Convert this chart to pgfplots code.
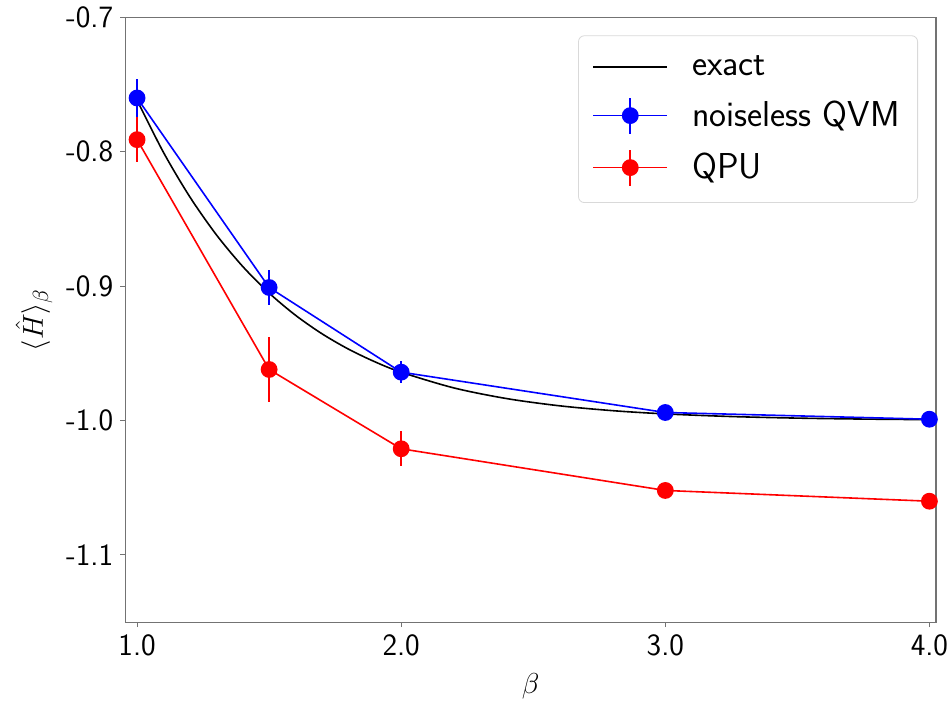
\documentclass[border=0pt]{standalone}
\usepackage{pgfplots}
\pgfplotsset{compat=1.18}
\renewcommand{\familydefault}{\sfdefault}

% legend sample with a horizontal line, a vertical error bar and a dot
\pgfplotsset{
  errlegend/.style={
    legend image code/.code={
      \draw[draw=#1,line width=0.8pt] (0pt,0pt) -- (37pt,0pt);
      \draw[draw=#1,line width=1pt] (18.5pt,-9pt) -- (18.5pt,9pt);
      \fill[fill=#1] (18.5pt,0pt) circle[radius=3.8pt];
    }
  }
}

\begin{document}
\begin{tikzpicture}
\begin{axis}[
  name=ax,
  scale only axis,
  width=405.5pt, height=302.5pt,
  xmin=0.955, xmax=4.025,
  ymin=-1.15, ymax=-0.7,
  xtick={1,2,3,4},
  xticklabels={1.0,2.0,3.0,4.0},
  ytick={-1.1,-1.0,-0.9,-0.8,-0.7},
  yticklabels={-1.1,-1.0,-0.9,-0.8,-0.7},
  tick align=outside,
  tick pos=left,
  major tick length=2.5pt,
  axis line style={black!55, line width=0.6pt},
  tick style={black!55, line width=0.5pt},
  ticklabel style={font=\fontsize{15.5}{18}\selectfont},
  xlabel={$\beta$},
  ylabel={$\langle \hat{H}\rangle_{\beta}$},
  label style={font=\fontsize{15}{18}\selectfont},
  xlabel style={yshift=-2pt},
  ylabel style={yshift=0pt},
  legend cell align=left,
  legend style={
    at={(1,1)}, anchor=north east, xshift=-9pt, yshift=-9pt,
    draw=black!15, rounded corners=3pt,
    font=\fontsize{18}{21}\selectfont,
    row sep=7pt, inner xsep=7pt, inner ysep=8pt,
    /tikz/every odd column/.append style={column sep=10pt},
  },
  legend image code/.code={
    \draw[#1] (0pt,0pt) -- (37pt,0pt);
  },
]

% exact thermal energy
\addplot[black, line width=0.8pt, smooth] coordinates {
  (1.0,-0.76159) (1.1,-0.80050) (1.2,-0.83365) (1.3,-0.86172)
  (1.4,-0.88535) (1.5,-0.90515) (1.6,-0.92167) (1.7,-0.93541)
  (1.8,-0.94681) (1.9,-0.95624) (2.0,-0.96403) (2.2,-0.97574)
  (2.4,-0.98367) (2.6,-0.98903) (2.8,-0.99263) (3.0,-0.99505)
  (3.25,-0.99700) (3.5,-0.99818) (3.75,-0.99889) (4.0,-0.99933)
};
\addlegendentry{exact}

% noiseless QVM
\addplot[blue, line width=0.8pt, mark=*, mark size=3.8pt,
  mark options={solid, fill=blue, draw=blue},
  errlegend=blue,
  error bars/.cd, y dir=both, y explicit, error mark=none,
  error bar style={line width=1pt, blue}]
  coordinates {
  (1.0,-0.760) +- (0,0.014)
  (1.5,-0.901) +- (0,0.013)
  (2.0,-0.964) +- (0,0.008)
  (3.0,-0.994) +- (0,0.002)
  (4.0,-0.999) +- (0,0.001)
};
\addlegendentry{noiseless QVM}

% QPU
\addplot[red, line width=0.8pt, mark=*, mark size=3.8pt,
  mark options={solid, fill=red, draw=red},
  errlegend=red,
  error bars/.cd, y dir=both, y explicit, error mark=none,
  error bar style={line width=1pt, red}]
  coordinates {
  (1.0,-0.791) +- (0,0.017)
  (1.5,-0.962) +- (0,0.024)
  (2.0,-1.021) +- (0,0.013)
  (3.0,-1.052) +- (0,0.002)
  (4.0,-1.060) +- (0,0.002)
};
\addlegendentry{QPU}

\end{axis}
% page frame: a small margin left of the y label, tight on the right
\pgfresetboundingbox
\path ([xshift=-4.5pt]ax.outer south west)
  rectangle ([xshift=5.5pt]ax.east |- ax.outer north);
\end{tikzpicture}
\end{document}
